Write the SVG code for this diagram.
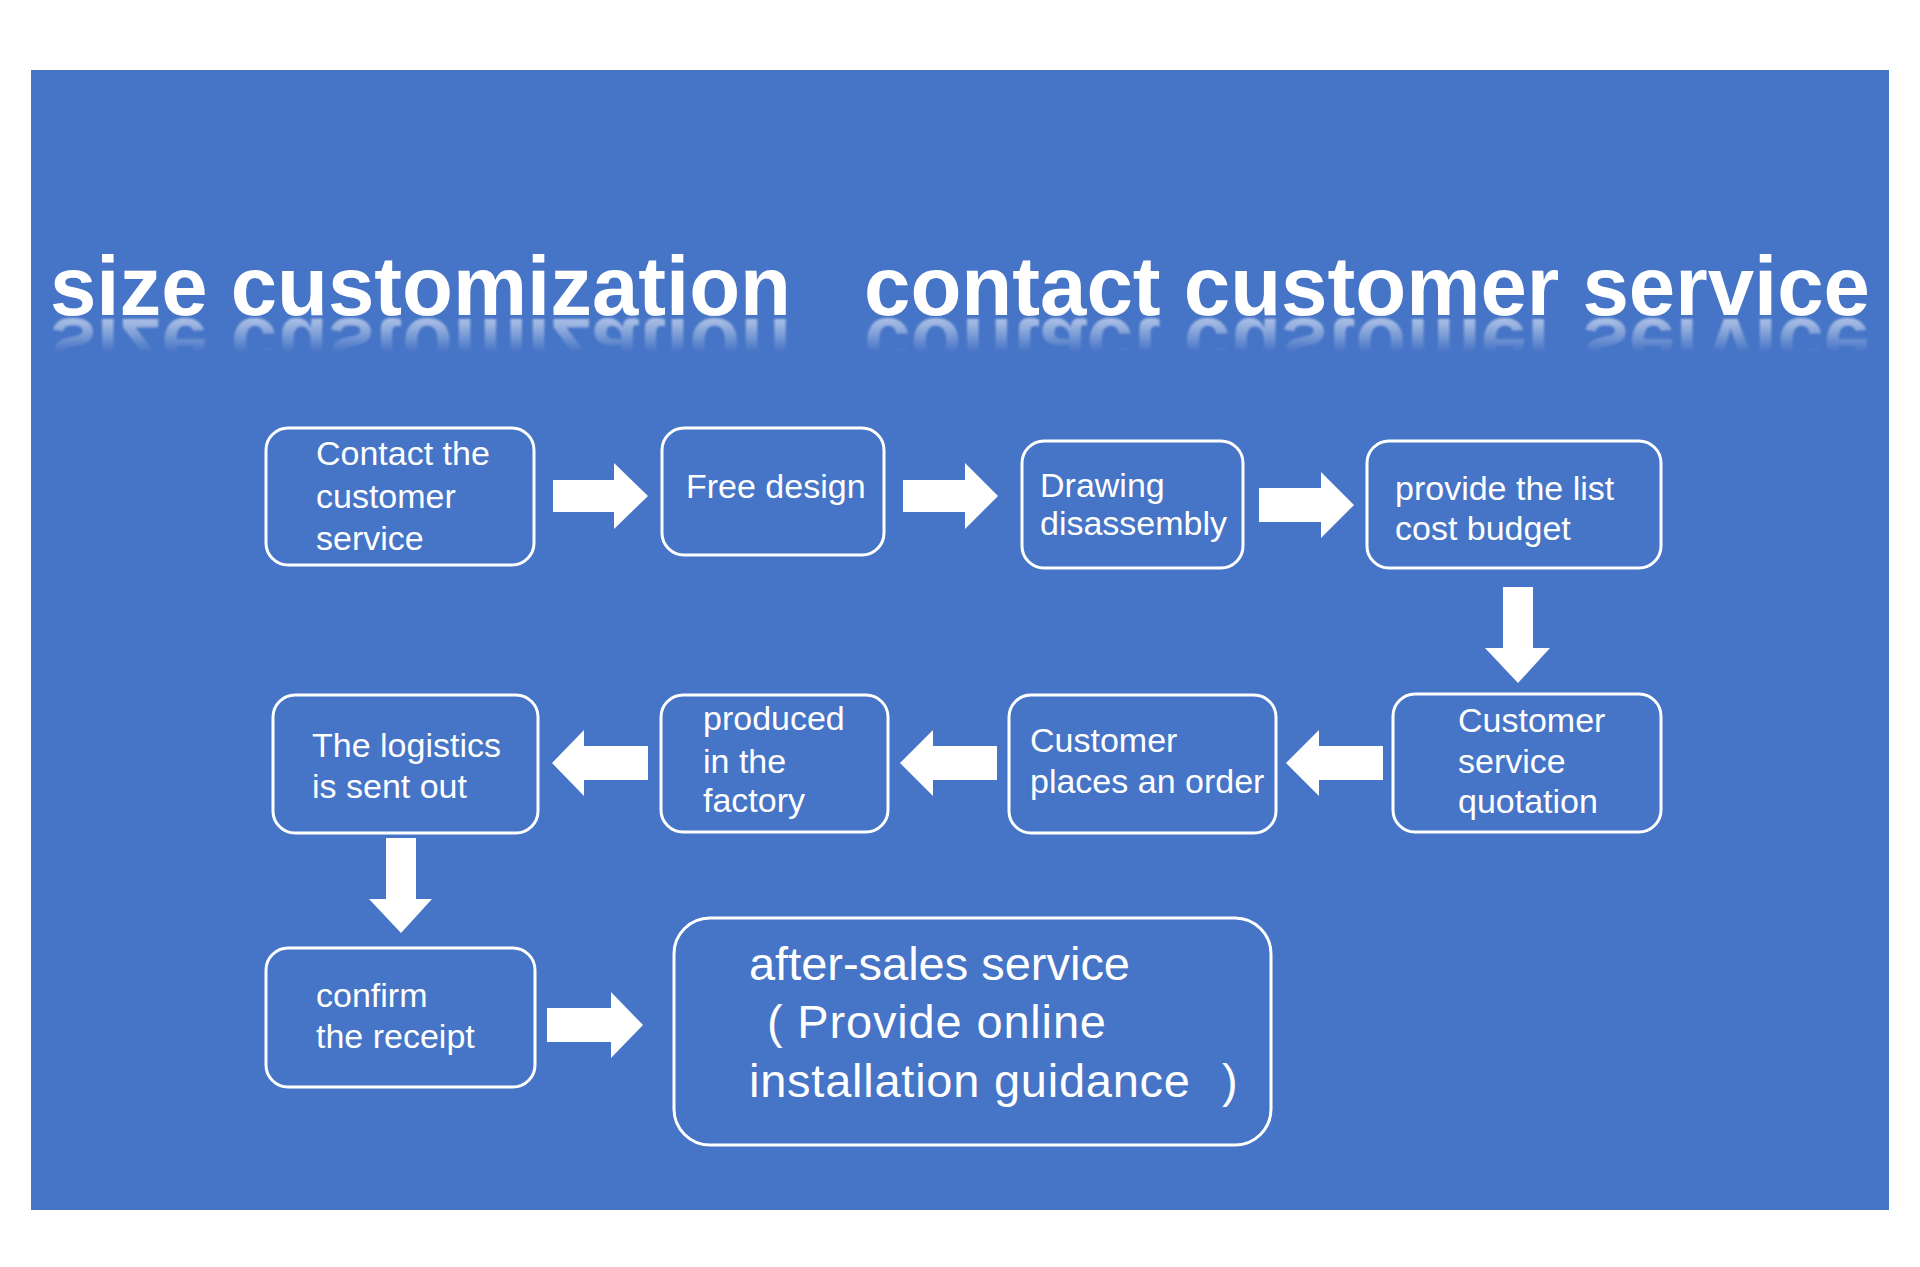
<svg xmlns="http://www.w3.org/2000/svg" xmlns:xlink="http://www.w3.org/1999/xlink" width="1920" height="1267" viewBox="0 0 1920 1267">
<defs>
<style>
.box{fill:#4674c6;stroke:#ffffff;stroke-width:3}
.lbl{font-family:"Liberation Sans",Arial,sans-serif;font-size:34px;fill:#ffffff}
.big{font-family:"Liberation Sans",Arial,sans-serif;font-size:47px;fill:#ffffff}
.title{font-family:"Liberation Sans",Arial,sans-serif;font-size:84px;font-weight:bold;fill:url(#tg)}
.arr{fill:#ffffff}
</style>
<linearGradient id="tg" x1="0" y1="0" x2="0" y2="1">
<stop offset="0" stop-color="#ffffff"/>
<stop offset="0.75" stop-color="#ffffff"/>
<stop offset="1" stop-color="#e2ebfa"/>
</linearGradient>
<linearGradient id="rg" gradientUnits="userSpaceOnUse" x1="0" y1="317" x2="0" y2="352">
<stop offset="0" stop-color="#ffffff" stop-opacity="0.7"/>
<stop offset="1" stop-color="#ffffff" stop-opacity="0"/>
</linearGradient>
<mask id="rm" maskUnits="userSpaceOnUse" x="0" y="300" width="1920" height="70">
<rect x="0" y="317" width="1920" height="38" fill="url(#rg)"/>
</mask>
<filter id="soft" x="-5%" y="-20%" width="110%" height="140%">
<feGaussianBlur stdDeviation="0.8"/>
</filter>
</defs>
<rect width="1920" height="1267" fill="#ffffff"/>
<rect x="31" y="70" width="1858" height="1140" fill="#4674c6"/>

<g id="title">
<text id="t1" class="title" x="50" y="315" textLength="741" lengthAdjust="spacingAndGlyphs">size customization</text>
<text id="t2" class="title" x="864" y="315" textLength="1006" lengthAdjust="spacingAndGlyphs">contact customer service</text>
<g mask="url(#rm)" opacity="0.85" filter="url(#soft)">
<use xlink:href="#t1" href="#t1" transform="translate(0,634) scale(1,-1)"/>
<use xlink:href="#t2" href="#t2" transform="translate(0,634) scale(1,-1)"/>
</g>
</g>

<g id="connectors">
<polygon class="arr" points="553,480 614,480 614,463 648,496 614,529 614,512 553,512"/>
<polygon class="arr" points="903,480 965,480 965,463 998,496 965,529 965,512 903,512"/>
<polygon class="arr" points="1259,488 1321,488 1321,472 1354,505 1321,538 1321,522 1259,522"/>
<polygon class="arr" points="1503,587 1533,587 1533,648 1550,648 1518,683 1485,648 1503,648"/>
<polygon class="arr" points="1383,746 1319,746 1319,730 1286,763 1319,796 1319,780 1383,780"/>
<polygon class="arr" points="997,746 933,746 933,730 900,763 933,796 933,780 997,780"/>
<polygon class="arr" points="648,746 584,746 584,730 552,763 584,796 584,780 648,780"/>
<polygon class="arr" points="386,838 416,838 416,899 432,899 401,933 369,899 386,899"/>
<polygon class="arr" points="547,1008 611,1008 611,992 643,1025 611,1058 611,1042 547,1042"/>
</g>

<g id="n1">
<rect class="box" x="266" y="428" width="268" height="137" rx="22"/>
<text class="lbl" x="316" y="465">Contact the</text>
<text class="lbl" x="316" y="508">customer</text>
<text class="lbl" x="316" y="550">service</text>
</g>
<g id="n2">
<rect class="box" x="662" y="428" width="222" height="127" rx="22"/>
<text class="lbl" x="686" y="498">Free design</text>
</g>
<g id="n3">
<rect class="box" x="1022" y="441" width="221" height="127" rx="22"/>
<text class="lbl" x="1040" y="497">Drawing</text>
<text class="lbl" x="1040" y="535">disassembly</text>
</g>
<g id="n4">
<rect class="box" x="1367" y="441" width="294" height="127" rx="22"/>
<text class="lbl" x="1395" y="500">provide the list</text>
<text class="lbl" x="1395" y="540">cost budget</text>
</g>
<g id="n5">
<rect class="box" x="1393" y="694" width="268" height="138" rx="22"/>
<text class="lbl" x="1458" y="732">Customer</text>
<text class="lbl" x="1458" y="773">service</text>
<text class="lbl" x="1458" y="813">quotation</text>
</g>
<g id="n6">
<rect class="box" x="1009" y="695" width="267" height="138" rx="22"/>
<text class="lbl" x="1030" y="752">Customer</text>
<text class="lbl" x="1030" y="793">places an order</text>
</g>
<g id="n7">
<rect class="box" x="661" y="695" width="227" height="137" rx="22"/>
<text class="lbl" x="703" y="730">produced</text>
<text class="lbl" x="703" y="773">in the</text>
<text class="lbl" x="703" y="812">factory</text>
</g>
<g id="n8">
<rect class="box" x="273" y="695" width="265" height="138" rx="22"/>
<text class="lbl" x="312" y="757">The logistics</text>
<text class="lbl" x="312" y="798">is sent out</text>
</g>
<g id="n9">
<rect class="box" x="266" y="948" width="269" height="139" rx="22"/>
<text class="lbl" x="316" y="1007">confirm</text>
<text class="lbl" x="316" y="1048">the receipt</text>
</g>
<g id="n10">
<rect class="box" x="674" y="918" width="597" height="227" rx="36"/>
<text class="big" x="749" y="980" textLength="381">after-sales service</text>
<text class="big" x="767" y="1038" textLength="339">( Provide online</text>
<text class="big" x="749" y="1097"><tspan textLength="441">installation guidance</tspan><tspan x="1222">)</tspan></text>
</g>
</svg>
